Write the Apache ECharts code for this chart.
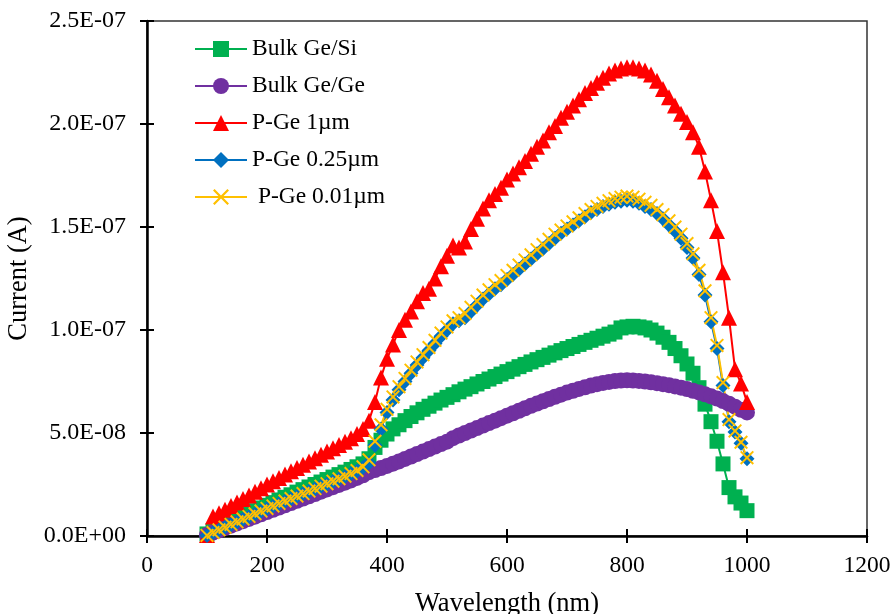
<!DOCTYPE html>
<html>
<head>
<meta charset="utf-8">
<script src="https://cdn.jsdelivr.net/npm/echarts@6/dist/echarts.min.js"></script>
<style>
  html, body { margin: 0; padding: 0; background: #fff; }
  #chart { width: 893px; height: 614px; }
</style>
</head>
<body>
<div id="chart"></div>
<script>
// Wavelength samples (nm)
const wavelength = [
  100, 110, 120, 130, 140, 150, 160, 170, 180, 190,
  200, 210, 220, 230, 240, 250, 260, 270, 280, 290,
  300, 310, 320, 330, 340, 350, 360, 370, 380, 390,
  400, 410, 420, 430, 440, 450, 460, 470, 480, 490,
  500, 510, 520, 530, 540, 550, 560, 570, 580, 590,
  600, 610, 620, 630, 640, 650, 660, 670, 680, 690,
  700, 710, 720, 730, 740, 750, 760, 770, 780, 790,
  800, 810, 820, 830, 840, 850, 860, 870, 880, 890,
  900, 910, 920, 930, 940, 950, 960, 970, 980, 990,
  1000
];

// Photocurrent in nA for each structure
const bulkGeSi = [
  1, 2.5, 4, 5.5, 7, 8.3, 9.7, 11, 12.3, 13.6,
  14.9, 16.2, 17.5, 18.8, 20, 21.3, 22.5, 23.8, 25, 26.2,
  27.4, 28.6, 29.8, 31, 32.3, 33.6, 35, 37.5, 43, 46.5,
  49.5, 52, 54, 56, 58, 59.8, 61.5, 63, 64.5, 66,
  67.3, 68.6, 70, 71.3, 72.5, 73.8, 75, 76.2, 77.4, 78.6,
  79.8, 81, 82.2, 83.3, 84.5, 85.6, 86.7, 87.8, 88.9, 90,
  91, 92, 93, 94, 95, 96, 97, 98, 99, 101,
  101.5, 101.8, 101.5, 101, 100, 98.5, 96.5, 94, 91, 87.5,
  83.5, 79, 72, 64, 55.5, 46, 35, 23.5, 19, 16,
  12.3
];

const bulkGeGe = [
  0.5, 1.7, 2.8, 3.9, 5, 6.1, 7.2, 8.3, 9.4, 10.5,
  11.6, 12.7, 13.8, 14.9, 16, 17.1, 18.2, 19.3, 20.4, 21.5,
  22.6, 23.7, 24.8, 25.9, 27, 28.2, 29.5, 31, 32, 33,
  34, 35.1, 36.2, 37.4, 38.6, 39.8, 41, 42.2, 43.4, 44.6,
  45.8, 47.5, 48.8, 50, 51.2, 52.4, 53.6, 54.8, 56, 57.2,
  58.4, 59.6, 60.8, 62, 63.2, 64.3, 65.4, 66.5, 67.6, 68.6,
  69.6, 70.5, 71.4, 72.2, 73, 73.7, 74.3, 74.8, 75.2, 75.5,
  75.6, 75.5, 75.3, 75, 74.6, 74.2, 73.7, 73.2, 72.6, 72,
  71.3, 70.5, 69.7, 68.8, 67.8, 66.7, 65.5, 64.2, 62.8, 61.3,
  60
];

const pGe1um = [
  0.5, 9.5, 11, 12.8, 14.6, 16.3, 18, 19.7, 21.5, 23.2,
  25, 26.6, 28.2, 29.8, 31.4, 33, 34.6, 36.2, 37.8, 39.4,
  41, 42.6, 44.2, 45.8, 47.5, 49.5, 52, 56, 65, 77,
  86, 93, 100, 105, 109, 114, 118, 120, 125, 131,
  136, 141, 140, 143, 149, 154, 159, 163, 166, 169,
  173, 176, 179, 182, 185.5, 189, 192, 196, 199, 203,
  206, 209, 212, 215, 217.5, 220, 222.5, 224.5, 226, 227,
  227.5, 227.5, 227, 226, 224, 221, 217, 213, 209, 205,
  201, 196, 189, 177, 163, 148, 128, 106, 81, 74,
  65
];

const pGe025um = [
  0.3, 1.6, 2.9, 4.2, 5.5, 6.8, 8.1, 9.4, 10.7, 12,
  13.3, 14.5, 15.7, 16.9, 18.1, 19.3, 20.5, 21.7, 22.9, 24.1,
  25.3, 26.5, 27.7, 28.9, 30.2, 31.6, 33.2, 35.5, 44, 52,
  60, 66, 71, 75, 79, 83, 86.5, 90, 93.5, 97,
  100, 103, 104.5, 106, 109, 112, 115, 117.5, 120, 122,
  124.5, 127, 129.5, 132, 134.5, 137, 139.5, 142, 144.5, 147,
  149, 151, 153, 155, 157, 158.5, 160, 161, 162, 162.5,
  163, 162.5, 161.5, 160, 158.5, 156.5, 154, 151, 148, 144.5,
  140, 135, 127, 117, 104, 91, 73, 55.5, 50.5, 45,
  37.5
];

const pGe001um = [
  0.3, 1.7, 3, 4.3, 5.6, 6.9, 8.2, 9.5, 10.8, 12.1,
  13.4, 14.6, 15.8, 17, 18.2, 19.4, 20.6, 21.8, 23, 24.2,
  25.4, 26.6, 27.8, 29, 30.3, 31.8, 33.6, 37, 46, 54,
  61.5, 67.5, 72.5, 76.5, 80.5, 84.5, 88, 91.5, 95, 98.5,
  101.5, 104.5, 106, 108, 111, 114, 117, 119.5, 122, 124,
  126.5, 129, 131.5, 134, 136.5, 139, 141.5, 144, 146.5, 148.5,
  150.5, 152.5, 154.5, 156.5, 158.5, 160, 161.5, 162.8, 163.8, 164.5,
  165, 164.5, 163.5, 162, 160.5, 158.5, 156, 153, 150, 146.5,
  142, 137, 129, 119, 106, 92.5, 74.5, 56.5, 51, 45.5,
  38
];

const seriesNames = ['Bulk Ge/Si', 'Bulk Ge/Ge', 'P-Ge 1\u00b5m', 'P-Ge 0.25\u00b5m', ' P-Ge 0.01\u00b5m'];

const NANO = 1e-9;
const FONT = "'Liberation Serif', 'Times New Roman', serif";

// "2.5E-07" style labels for amperes
function sciLabel(nA) {
  const v = nA * NANO;
  if (Math.abs(v) < 1e-15) return '0.0E+00';
  const parts = v.toExponential(1).split('e');
  const sign = parts[1][0] === '-' ? '-' : '+';
  const digits = parts[1].replace(/[+-]/, '').padStart(2, '0');
  return parts[0] + 'E' + sign + digits;
}

function plainLabel(v) {
  return String(Math.round(v));
}

function pairs(ys) {
  return wavelength.map((x, i) => [x, ys[i]]);
}

const crossPath = 'path://M0,1L1,0L5,4L9,0L10,1L6,5L10,9L9,10L5,6L1,10L0,9L4,5Z';

function lineSeries(name, ys, color, symbol, size) {
  return {
    name: name,
    type: 'line',
    xAxisIndex: 0,
    yAxisIndex: 0,
    data: pairs(ys),
    symbol: symbol,
    symbolSize: size,
    showAllSymbol: true,
    lineStyle: { color: color, width: 2 },
    itemStyle: { color: color, borderWidth: 0 },
    emphasis: { disabled: true }
  };
}

const axisX = { min: 0, max: 1200, interval: 200 };
const axisY = { min: 0, max: 250, interval: 50 };

const chart = echarts.init(document.getElementById('chart'), null, { renderer: 'canvas' });

chart.setOption({
  animation: false,
  backgroundColor: '#ffffff',
  textStyle: { fontFamily: FONT, color: '#000' },
  grid: {
    left: 147, right: 26, top: 21, bottom: 78,
    outerBoundsMode: 'none',
    containLabel: false,
    show: true, borderColor: '#333', borderWidth: 1.5, backgroundColor: 'transparent'
  },
  legend: {
    orient: 'vertical',
    left: 194,
    top: 37,
    padding: 0,
    itemWidth: 52,
    itemHeight: 20,
    itemGap: 13,
    textStyle: { fontFamily: FONT, fontSize: 23.5, color: '#000' },
    data: seriesNames
  },
  xAxis: [
    Object.assign({
      type: 'value',
      position: 'bottom',
      name: 'Wavelength (nm)',
      nameLocation: 'middle',
      nameGap: 55,
      nameTextStyle: { fontFamily: FONT, fontSize: 26.5, color: '#000' },
      axisLine: { show: true, onZero: false, lineStyle: { color: '#000', width: 2.5 } },
      axisTick: { show: true, inside: false, length: 7, lineStyle: { color: '#000', width: 2 } },
      axisLabel: { fontFamily: FONT, fontSize: 23.5, color: '#000', margin: 18, formatter: plainLabel },
      splitLine: { show: false }
    }, axisX),
    Object.assign({
      type: 'value',
      position: 'bottom',
      offset: 0,
      axisLine: { show: false },
      axisTick: { show: true, inside: true, length: 7, lineStyle: { color: '#000', width: 2 } },
      axisLabel: { show: false },
      splitLine: { show: false }
    }, axisX)
  ],
  yAxis: [
    Object.assign({
      type: 'value',
      position: 'left',
      name: 'Current (A)',
      nameLocation: 'middle',
      nameGap: 106,
      nameRotate: 90,
      nameTextStyle: { fontFamily: FONT, fontSize: 26.5, color: '#000' },
      axisLine: { show: true, onZero: false, lineStyle: { color: '#000', width: 2.5 } },
      axisTick: { show: true, inside: false, length: 7, lineStyle: { color: '#000', width: 2 } },
      axisLabel: { fontFamily: FONT, fontSize: 24, color: '#000', margin: 21, formatter: sciLabel },
      splitLine: { show: false }
    }, axisY),
    Object.assign({
      type: 'value',
      position: 'left',
      offset: 0,
      axisLine: { show: false },
      axisTick: { show: true, inside: true, length: 7, lineStyle: { color: '#000', width: 2 } },
      axisLabel: { show: false },
      splitLine: { show: false }
    }, axisY)
  ],
  series: [
    lineSeries(seriesNames[0], bulkGeSi, '#00B050', 'rect', 15),
    lineSeries(seriesNames[1], bulkGeGe, '#7030A0', 'circle', 16),
    lineSeries(seriesNames[2], pGe1um, '#FF0000', 'triangle', 16),
    lineSeries(seriesNames[3], pGe025um, '#0070C0', 'diamond', 15),
    lineSeries(seriesNames[4], pGe001um, '#FFC000', crossPath, 14)
  ]
});
</script>
</body>
</html>
